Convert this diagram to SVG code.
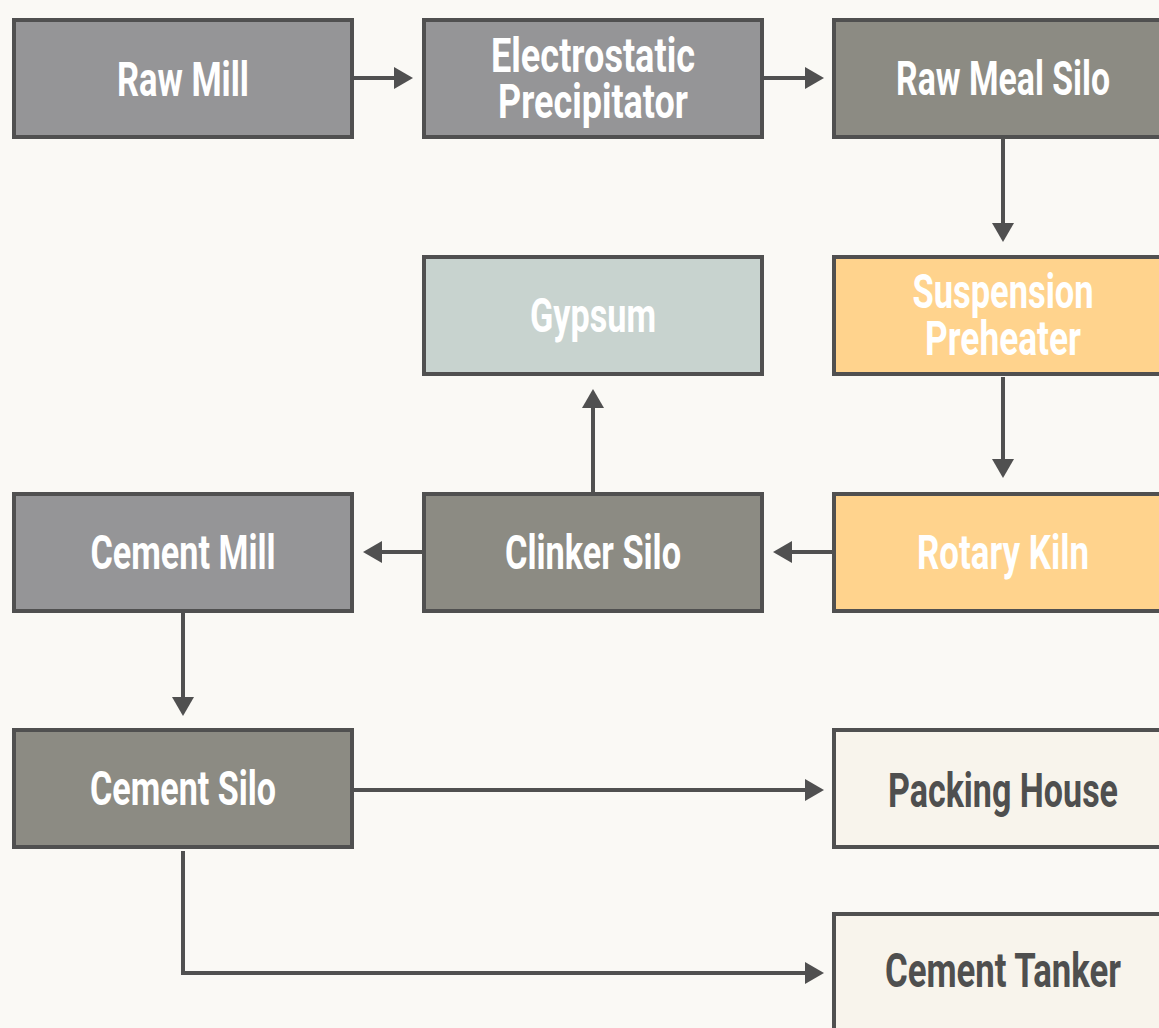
<svg xmlns="http://www.w3.org/2000/svg" width="1159" height="1028" viewBox="0 0 1159 1028">
<style>
.box{stroke:#505050;stroke-width:4}
.mill{fill:#959597}
.silo{fill:#8c8b83}
.hot{fill:#ffd38d}
.gyp{fill:#c8d3cf}
.out{fill:#f8f4ec}
.t{font-family:Roboto,"Liberation Sans",sans-serif;font-weight:700;font-size:49px;text-anchor:middle;fill:#ffffff}
.dark{fill:#4f4f4f}
.edge{fill:none;stroke:#505050;stroke-width:4}
</style>
<defs>
<marker id="ah" markerUnits="userSpaceOnUse" markerWidth="20" markerHeight="22" refX="1" refY="11" orient="auto">
<path d="M0,0 L19,11 L0,22 z" fill="#505050"/>
</marker>
</defs>
<rect width="1159" height="1028" fill="#faf9f5"/>
<g id="connectors">
<path class="edge" d="M354,78 H395" marker-end="url(#ah)"/>
<path class="edge" d="M764,78 H806" marker-end="url(#ah)"/>
<path class="edge" d="M1003,139 V224" marker-end="url(#ah)"/>
<path class="edge" d="M1003,377 V460" marker-end="url(#ah)"/>
<path class="edge" d="M832,552 H791" marker-end="url(#ah)"/>
<path class="edge" d="M422,552 H381" marker-end="url(#ah)"/>
<path class="edge" d="M593,492 V407" marker-end="url(#ah)"/>
<path class="edge" d="M183,613 V698" marker-end="url(#ah)"/>
<path class="edge" d="M354,790 H806" marker-end="url(#ah)"/>
<path class="edge" d="M183,851 V973 H806" marker-end="url(#ah)"/>
</g>
<g id="raw-mill">
<rect class="box mill" x="14" y="20" width="338" height="117"/>
<text class="t" x="183" y="96" textLength="132" lengthAdjust="spacingAndGlyphs">Raw Mill</text>
</g>
<g id="electrostatic-precipitator">
<rect class="box mill" x="424" y="20" width="338" height="117"/>
<text class="t" x="593" y="72" textLength="204" lengthAdjust="spacingAndGlyphs">Electrostatic</text>
<text class="t" x="593" y="118" textLength="190" lengthAdjust="spacingAndGlyphs">Precipitator</text>
</g>
<g id="raw-meal-silo">
<rect class="box silo" x="834" y="20" width="338" height="117"/>
<text class="t" x="1003" y="95" textLength="214" lengthAdjust="spacingAndGlyphs">Raw Meal Silo</text>
</g>
<g id="gypsum">
<rect class="box gyp" x="424" y="257" width="338" height="117"/>
<text class="t" x="593" y="332" textLength="126" lengthAdjust="spacingAndGlyphs">Gypsum</text>
</g>
<g id="suspension-preheater">
<rect class="box hot" x="834" y="257" width="338" height="117"/>
<text class="t" x="1003" y="308" textLength="181" lengthAdjust="spacingAndGlyphs">Suspension</text>
<text class="t" x="1003" y="355" textLength="156" lengthAdjust="spacingAndGlyphs">Preheater</text>
</g>
<g id="cement-mill">
<rect class="box mill" x="14" y="494" width="338" height="117"/>
<text class="t" x="183" y="569" textLength="185" lengthAdjust="spacingAndGlyphs">Cement Mill</text>
</g>
<g id="clinker-silo">
<rect class="box silo" x="424" y="494" width="338" height="117"/>
<text class="t" x="593" y="569" textLength="176" lengthAdjust="spacingAndGlyphs">Clinker Silo</text>
</g>
<g id="rotary-kiln">
<rect class="box hot" x="834" y="494" width="338" height="117"/>
<text class="t" x="1003" y="569" textLength="172" lengthAdjust="spacingAndGlyphs">Rotary Kiln</text>
</g>
<g id="cement-silo">
<rect class="box silo" x="14" y="730" width="338" height="117"/>
<text class="t" x="183" y="805" textLength="186" lengthAdjust="spacingAndGlyphs">Cement Silo</text>
</g>
<g id="packing-house">
<rect class="box out" x="834" y="730" width="338" height="117"/>
<text class="t dark" x="1003" y="807" textLength="230" lengthAdjust="spacingAndGlyphs">Packing House</text>
</g>
<g id="cement-tanker">
<rect class="box out" x="834" y="914" width="338" height="117"/>
<text class="t dark" x="1003" y="987" textLength="236" lengthAdjust="spacingAndGlyphs">Cement Tanker</text>
</g>
</svg>
